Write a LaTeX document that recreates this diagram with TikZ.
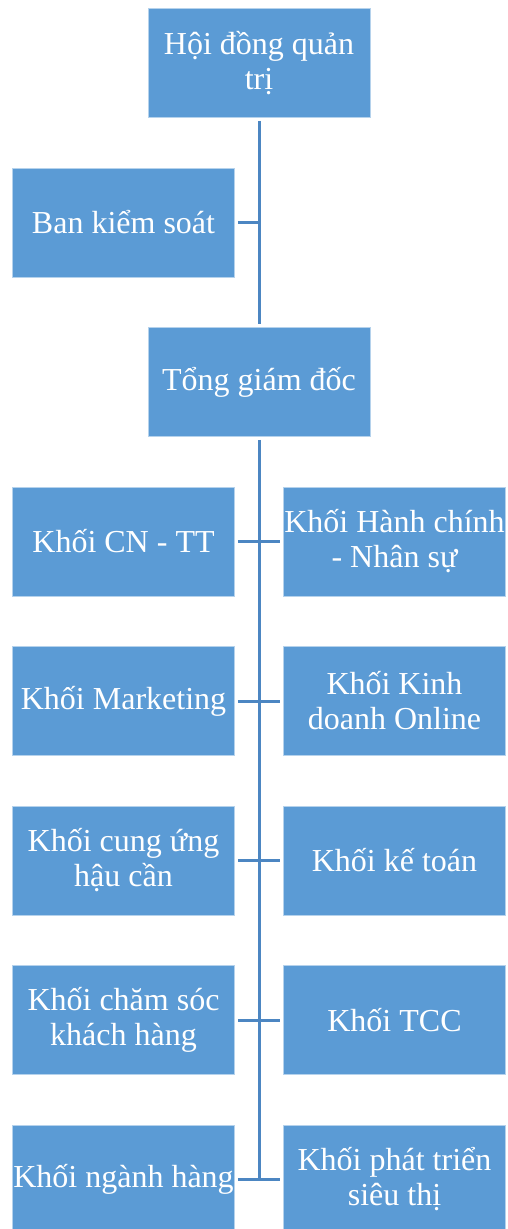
\documentclass[tikz,border=0pt]{standalone}
\usepackage{fontspec}
\setmainfont{Liberation Serif}
\usetikzlibrary{positioning}
\definecolor{boxblue}{RGB}{91,155,213}
\definecolor{lineblue}{RGB}{76,134,194}

\begin{document}
\begin{tikzpicture}[x=1pt, y=1pt, node distance = 159.5pt and 135.5pt, on grid,
    box/.style={rectangle, fill=boxblue, draw=boxblue!45!white, line width=0.6pt,
      minimum width=222pt, minimum height=109pt, inner sep=0pt, align=center,
      text=white, font=\fontsize{32}{35}\selectfont},
    link/.style={draw=lineblue, line width=3pt, shorten >=3pt, shorten <=3pt}]
	\useasboundingbox (0,0) rectangle (507,-1229);

	\node[box] (hd) at (259,-63) {Hội đồng quản\\trị};
	\node[box, below left=of hd] (bks) {Ban kiểm soát};
	\node[box, below right=of bks] (tgd) {Tổng giám đốc};

	\node[box, below left=of tgd] (l1) {Khối CN - TT};
	\node[box, below right=of tgd] (r1) {Khối Hành chính\\- Nhân sự};
	\node[box, below=of l1] (l2) {Khối Marketing};
	\node[box, below=of r1] (r2) {Khối Kinh\\doanh Online};
	\node[box, below=of l2] (l3) {Khối cung ứng\\hậu cần};
	\node[box, below=of r2] (r3) {Khối kế toán};
	\node[box, below=of l3] (l4) {Khối chăm sóc\\khách hàng};
	\node[box, below=of r3] (r4) {Khối TCC};
	\node[box, below=of l4] (l5) {Khối ngành hàng};
	\node[box, below=of r4] (r5) {Khối phát triển\\siêu thị};

	% truc doc
	\draw[link] (hd) -- (tgd);
	\draw[link, shorten >=0pt] (bks) -- (bks -| hd);
	\draw[link, shorten >=0pt] (tgd) -- (tgd |- l5);

	% cac khoi
	\foreach \i in {1,...,5}
		\draw[link] (l\i) -- (r\i);
\end{tikzpicture}
\end{document}
